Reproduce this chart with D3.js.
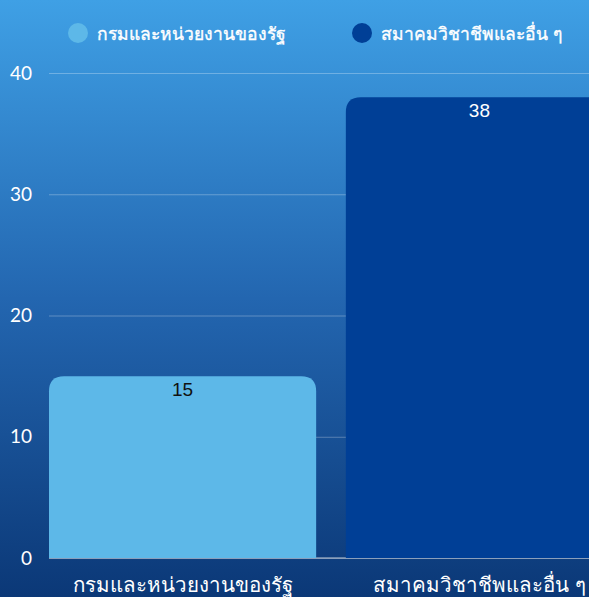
<!DOCTYPE html>
<html>
<head>
<meta charset="utf-8">
<script src="https://cdn.jsdelivr.net/npm/d3@7"></script>
<style>
html,body{margin:0;padding:0;overflow:hidden;}
svg{display:block;}
</style>
</head>
<body>
<script>
const categories = ["กรมและหน่วยงานของรัฐ", "สมาคมวิชาชีพและอื่น ๆ"];
const values = [15, 38];
const colors = ["#5db8e8", "#003f96"];
const yTicks = [0, 10, 20, 30, 40];

const W = 589, H = 597;
const svg = d3.select("body").append("svg").attr("width", W).attr("height", H);
const defs = svg.append("defs");
const bg = defs.append("linearGradient").attr("id","bg").attr("x1",0).attr("y1",0).attr("x2",0).attr("y2",1);
bg.append("stop").attr("offset","0%").attr("stop-color","#3fa0e5");
bg.append("stop").attr("offset","50%").attr("stop-color","#2366b0");
bg.append("stop").attr("offset","100%").attr("stop-color","#0b3877");
svg.append("rect").attr("width",W).attr("height",H).attr("fill","url(#bg)");

const x = d3.scaleBand().domain(categories).range([49, 613]).paddingInner(0.1).paddingOuter(0);
const y = d3.scaleLinear().domain([0, 40]).range([558, 73]);

// grid
const grid = svg.append("g").attr("transform","translate(49,0)")
  .call(d3.axisLeft(y).tickValues(yTicks).tickSize(-(W-49)).tickFormat(""));
grid.select(".domain").remove();
grid.selectAll(".tick line").attr("stroke","rgba(255,255,255,0.28)").attr("stroke-width",1);

// y labels
const yl = svg.append("g").attr("transform","translate(32,0)")
  .call(d3.axisLeft(y).tickValues(yTicks).tickSize(0).tickPadding(0));
yl.select(".domain").remove();
yl.selectAll("text").attr("fill","#ffffff").attr("font-family","Lato, sans-serif").attr("font-size",19).attr("text-anchor","end");

// baseline
svg.append("line").attr("x1",49).attr("x2",W).attr("y1",y(0)).attr("y2",y(0))
  .attr("stroke","#c3ccd6").attr("stroke-width",1);

// bars
const r = 15;
function barPath(x0, w, yTop, yBot){
  return `M${x0},${yBot}V${yTop+r}Q${x0},${yTop} ${x0+r},${yTop}H${x0+w-r}Q${x0+w},${yTop} ${x0+w},${yTop+r}V${yBot}Z`;
}
svg.selectAll("path.bar").data(values).join("path").attr("class","bar")
  .attr("d",(d,i)=>barPath(x(categories[i]), x.bandwidth(), y(d), y(0)))
  .attr("fill",(d,i)=>colors[i]);

svg.selectAll("text.val").data(values).join("text").attr("class","val")
  .attr("x",(d,i)=>x(categories[i])+x.bandwidth()/2)
  .attr("y",d=>y(d)+20)
  .attr("text-anchor","middle")
  .attr("font-family","'Liberation Sans', Arial, sans-serif").attr("font-size",19)
  .attr("fill",(d,i)=> i===0 ? "#111111" : "#ffffff")
  .text(d=>d);

// x labels
svg.selectAll("text.xl").data(categories).join("text").attr("class","xl")
  .attr("x",d=>x(d)+x.bandwidth()/2)
  .attr("y",592)
  .attr("text-anchor","middle")
  .attr("font-family","'Noto Sans', sans-serif").attr("font-size",20.5)
  .attr("fill","#ffffff")
  .text(d=>d);

// legend
const legendX = [78, 362];
const lg = svg.selectAll("g.lg").data(categories).join("g").attr("class","lg")
  .attr("transform",(d,i)=>`translate(${legendX[i]},33)`);
lg.append("circle").attr("r",10).attr("fill",(d,i)=>colors[i]);
lg.append("text").attr("x",19).attr("y",7).attr("font-family","'Noto Sans', sans-serif")
  .attr("font-size",17.5).attr("fill","#ffffff")
  .attr("stroke","#ffffff").attr("stroke-width",0.35).text(d=>d);
</script>
</body>
</html>
